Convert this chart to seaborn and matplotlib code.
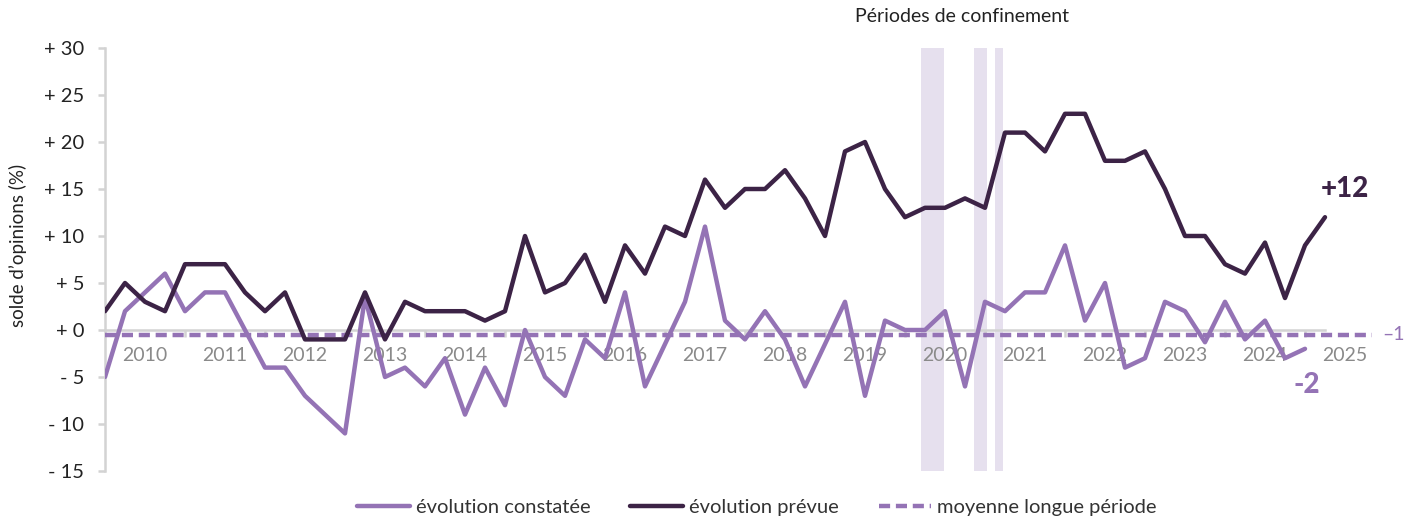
import numpy as np
import pandas as pd
import matplotlib
matplotlib.use("Agg")
import matplotlib.pyplot as plt
import matplotlib.transforms as mtransforms
import seaborn as sns

# ---------------- data ----------------
start_year = 2010.0          # first quarter (2010 Q1)
step = 0.25                  # quarterly data

evolution_prevue = [2, 5, 3, 2, 7, 7, 7, 4, 2, 4, -1, -1, -1, 4, -1, 3,
                    2, 2, 2, 1, 2, 10, 4, 5, 8, 3, 9, 6, 11, 10, 16, 13,
                    15, 15, 17, 14, 10, 19, 20, 15, 12, 13, 13, 14, 13, 21, 21, 19,
                    23, 23, 18, 18, 19, 15, 10, 10, 7, 6, 9.3, 3.4, 9, 12]

evolution_constatee = [-5, 2, 4, 6, 2, 4, 4, 0, -4, -4, -7, -9, -11, 3.5, -5, -4,
                       -6, -3, -9, -4, -8, 0, -5, -7, -1, -3, 4, -6, -1.5, 3, 11, 1,
                       -1, 2, -1, -6, -1.5, 3, -7, 1, 0, 0, 2, -6, 3, 2, 4, 4,
                       9, 1, 5, -4, -3, 3, 2, -1.3, 3, -1, 1, -3, -2]

moyenne_longue_periode = -0.5
moyenne_label = "\u20131"

confinement_debut = [2020.20, 2020.86, 2021.13]
confinement_fin = [2020.49, 2021.02, 2021.22]

annees = list(range(2010, 2026))
y_ticks = [-15, -10, -5, 0, 5, 10, 15, 20, 25, 30]
y_ticklabels = [("+ " if v >= 0 else "- ") + str(abs(v)) for v in y_ticks]

label_constatee = "évolution constatée"
label_prevue = "évolution prévue"
label_moyenne = "moyenne longue période"
titre_confinement = "Périodes de confinement"
ylabel = "solde d\u2019opinions (%)"

# ---------------- style ----------------
PURPLE = "#9473B5"
DARK = "#3C2346"
SHADE = "#E6E0EE"
GRID_GRAY = "#D3D3D3"
LW = 3.2

sns.set_style("white")
plt.rcParams["font.family"] = ["Lato", "DejaVu Sans"]

df_p = pd.DataFrame({"x": start_year + step * np.arange(len(evolution_prevue)),
                     "y": evolution_prevue})
df_c = pd.DataFrame({"x": start_year + step * np.arange(len(evolution_constatee)),
                     "y": evolution_constatee})

fig = plt.figure(figsize=(14.14, 5.17), dpi=100)
ax = fig.add_axes([105 / 1414, 46 / 517, 1280 / 1414, 423 / 517])

# confinement periods
for a, b in zip(confinement_debut, confinement_fin):
    ax.axvspan(a, b, color=SHADE, lw=0, zorder=0)

# long-period mean
ax.axhline(moyenne_longue_periode, xmin=0, xmax=0.99, color=PURPLE, lw=LW,
           dashes=(2.5, 1.3), zorder=2.6, label=label_moyenne, clip_on=False)

sns.lineplot(data=df_c, x="x", y="y", ax=ax, color=PURPLE, lw=LW,
             label=label_constatee, zorder=3)
sns.lineplot(data=df_p, x="x", y="y", ax=ax, color=DARK, lw=LW,
             label=label_prevue, zorder=3.2)

# axes
ax.set_xlim(2010, 2026)
ax.set_ylim(-15, 30)
for s in ["top", "right"]:
    ax.spines[s].set_visible(False)
ax.spines["bottom"].set_position(("data", 0))
ax.spines["bottom"].set_bounds(df_p["x"].min(), df_p["x"].max())
ax.spines["bottom"].set_color(GRID_GRAY)
ax.spines["bottom"].set_linewidth(1.8)
ax.spines["left"].set_color(GRID_GRAY)
ax.spines["left"].set_linewidth(1.8)

ax.set_yticks(y_ticks)
ax.set_yticklabels(y_ticklabels)
ax.tick_params(axis="y", which="major", length=5, width=1.8, color=GRID_GRAY,
               pad=10, labelsize=14.5, labelcolor="#222222", left=True, direction="out")

ax.set_xticks([a for a in annees if a > 2010])
ax.set_xticklabels([])
ax.set_xticks([a + 0.5 for a in annees], minor=True)
ax.set_xticklabels([str(a) for a in annees], minor=True)
ax.tick_params(axis="x", which="major", length=5, width=1.8, color=GRID_GRAY,
               direction="out", bottom=True)
ax.tick_params(axis="x", which="minor", length=0, pad=12, labelsize=14,
               labelcolor="#8A8A8A")
ax.set_xlabel("")
ax.set_ylabel("")

# annotations of last values
ax.annotate(f"+{evolution_prevue[-1]:.0f}", xy=(df_p["x"].iloc[-1], evolution_prevue[-1]),
            xytext=(14, 20), textcoords="offset points", ha="center", va="center",
            fontsize=20, fontweight="black", color=DARK)
ax.annotate(f"{evolution_constatee[-1]:.0f}", xy=(df_c["x"].iloc[-1], evolution_constatee[-1]),
            xytext=(1, -26), textcoords="offset points", ha="center", va="center",
            fontsize=20, fontweight="black", color=PURPLE)
trans = mtransforms.blended_transform_factory(ax.transAxes, ax.transData)
ax.text(0.998, moyenne_longue_periode, moyenne_label, transform=trans, ha="left",
        va="center", fontsize=14, color=PURPLE)

fig.text(962 / 1414, 1 - 17 / 517, titre_confinement, ha="center", va="center",
         fontsize=14, color="#222222")
fig.text(18 / 1414, 1 - 245 / 517, ylabel, rotation=90, ha="center", va="center",
         fontsize=13.5, color="#222222")

# legend
handles, labels = ax.get_legend_handles_labels()
order = [labels.index(label_constatee), labels.index(label_prevue), labels.index(label_moyenne)]
ax.legend_.remove()
fig.legend([handles[i] for i in order], [labels[i] for i in order],
           loc="center", bbox_to_anchor=(757 / 1414, 10 / 517), ncol=3,
           frameon=False, fontsize=14.5, handlelength=2.6, handletextpad=0.3,
           columnspacing=2.0, labelcolor="#333333", borderaxespad=0, borderpad=0)

fig.savefig("out.png", dpi=100)
